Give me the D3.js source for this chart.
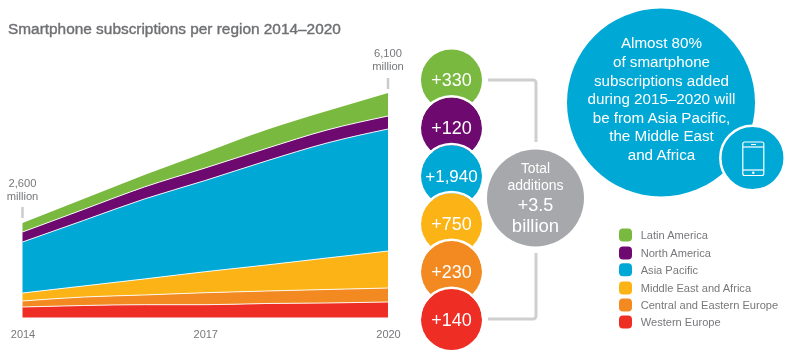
<!DOCTYPE html>
<html><head><meta charset="utf-8">
<script src="https://cdn.jsdelivr.net/npm/d3@7"></script>
<style>html,body{margin:0;background:#fff}svg{display:block;filter:blur(0.35px)}text{font-family:"Liberation Sans",Arial,sans-serif}</style>
</head><body><svg id="c" width="800" height="359"></svg>
<script>
const years=[2014,2015,2016,2017,2018,2019,2020];
const tickYears=[2014,2017,2020];
const westernEurope=[285,326,348,348,380,394,421];
const centralEasternEurope=[163,231,264,326,340,367,380];
const middleEastAfrica=[217,299,435,571,706,856,1005];
const asiaPacific=[1386,1780,2173,2478,2826,3125,3315];
const northAmerica=[272,299,326,340,340,353,353];
const latinAmerica=[245,285,326,421,503,516,625];
const regions=["Latin America","North America","Asia Pacific","Middle East and Africa","Central and Eastern Europe","Western Europe"];
const colors=["#7ab93f","#6e0a6f","#00a8d6","#fbb316","#f28a21","#ee2d24"];
const additions=["+330","+120","+1,940","+750","+230","+140"];
const stackSeries=[westernEurope,centralEasternEurope,middleEastAfrica,asiaPacific,northAmerica,latinAmerica];
const blurbLines=["Almost 80%","of smartphone","subscriptions added","during 2015–2020 will","be from Asia Pacific,","the Middle East","and Africa"];
const totalLines=[["Total",13.8],["additions",14],["+3.5",18],["billion",18.5]];

const svg=d3.select("#c");
const x=d3.scaleLinear().domain([2014,2020]).range([22.5,388]);
const y=d3.scaleLinear().domain([0,6100]).range([317.5,93]);
const txt="#77787b";
svg.append("text").attr("x",8).attr("y",33.5).attr("font-size",15.4).attr("fill","#6f7073").attr("stroke","#6f7073").attr("stroke-width",0.4).text("Smartphone subscriptions per region 2014–2020");

const rows=years.map((yr,i)=>{const r={year:yr};stackSeries.forEach((s,j)=>r[j]=s[i]);return r;});
const stack=d3.stack().keys(stackSeries.map((_,j)=>j))(rows);
const area=d3.area().x(d=>x(d.data.year)).y0(d=>y(d[0])).y1(d=>y(d[1])).curve(d3.curveMonotoneX);
const line=d3.line().x(d=>x(d.data.year)).y(d=>y(d[1])).curve(d3.curveMonotoneX);
stack.forEach((s,j)=>{svg.append("path").attr("d",area(s)).attr("fill",colors[5-j]);});
stack.slice(0,5).forEach(s=>{svg.append("path").attr("d",line(s)).attr("fill","none").attr("stroke","#fff").attr("stroke-opacity",.9).attr("stroke-width",1);});

const axis=d3.axisBottom(x).tickValues(tickYears).tickFormat(d3.format("d")).tickSize(0);
const ax=svg.append("g").attr("transform","translate(0,322)").call(axis);
ax.select(".domain").remove();
ax.selectAll("text").attr("font-size",11).attr("fill",txt).attr("font-family",'"Liberation Sans"').attr("dy","0.71em").attr("y",8.5);

[[2014,"2,600",186.5,199.5,207,218],[2020,"6,100",57,70,78,89]].forEach(([yr,v,a,b,t0,t1])=>{
  svg.append("text").attr("x",x(yr)).attr("y",a).attr("text-anchor","middle").attr("font-size",11.2).attr("fill",txt).text(v);
  svg.append("text").attr("x",x(yr)).attr("y",b).attr("text-anchor","middle").attr("font-size",11.2).attr("fill",txt).text("million");
  svg.append("line").attr("x1",x(yr)).attr("x2",x(yr)).attr("y1",t0).attr("y2",t1).attr("stroke","#ccc").attr("stroke-width",2.5);
});

const bx=451.5, by=d3.scalePoint().domain(additions).range([80,319.5]);
svg.append("path").attr("d",`M488,80H533a3,3 0 0 1 3,3V142`).attr("fill","none").attr("stroke","#cfcfd0").attr("stroke-width",3);
svg.append("path").attr("d",`M536,253V316a3,3 0 0 1 -3,3H488`).attr("fill","none").attr("stroke","#cfcfd0").attr("stroke-width",3);
additions.forEach((a,i)=>{
  svg.append("circle").attr("cx",bx).attr("cy",by(a)).attr("r",30.5).attr("fill",colors[i]);
  if(i) svg.append("path").attr("d",d3.arc()({innerRadius:30.5,outerRadius:33,startAngle:-Math.PI/2,endAngle:Math.PI/2})).attr("transform",`translate(${bx},${by(a)})`).attr("fill","#fff");
});
additions.forEach(a=>{
  svg.append("text").attr("x",bx).attr("y",by(a)).attr("dy","0.36em").attr("text-anchor","middle").attr("font-size",a.length>4?17:18).attr("fill","#fff").text(a);
});

svg.append("circle").attr("cx",535.5).attr("cy",198).attr("r",48.5).attr("fill","#a7a8ab");
[168.5,184.7,204.5,225].forEach((cy,i)=>{
  svg.append("text").attr("x",535.5).attr("y",cy).attr("dy","0.36em").attr("text-anchor","middle").attr("font-size",totalLines[i][1]).attr("fill","#fff").text(totalLines[i][0]);
});

svg.append("circle").attr("cx",661).attr("cy",102.5).attr("r",94).attr("fill","#00a8d6");
[43,62,80.5,99,117.5,136,155].forEach((cy,i)=>{
  svg.append("text").attr("x",661.5).attr("y",cy).attr("dy","0.36em").attr("text-anchor","middle").attr("font-size",15.2).attr("fill","#fff").text(blurbLines[i]);
});
svg.append("circle").attr("cx",752.5).attr("cy",158).attr("r",32.2).attr("fill","#00a8d6").attr("stroke","#fff").attr("stroke-width",2.5);
const ph=svg.append("g").attr("fill","none").attr("stroke","#fff").attr("stroke-width",1.2);
ph.append("rect").attr("x",742.8).attr("y",142).attr("width",21).attr("height",33.5).attr("rx",2);
ph.append("line").attr("x1",743).attr("x2",764).attr("y1",147).attr("y2",147);
ph.append("line").attr("x1",743).attr("x2",764).attr("y1",170).attr("y2",170);
ph.append("line").attr("x1",751).attr("x2",756).attr("y1",144.5).attr("y2",144.5).attr("stroke-width",1);
svg.append("circle").attr("cx",753.3).attr("cy",172.8).attr("r",1.2).attr("fill","#fff");

[235,253,269.7,288,305,322].forEach((cy,i)=>{
  svg.append("rect").attr("x",619).attr("y",cy-6.5).attr("width",13).attr("height",13).attr("rx",4).attr("fill",colors[i]);
  svg.append("text").attr("x",640.7).attr("y",cy).attr("dy","0.36em").attr("font-size",11.1).attr("fill",txt).text(regions[i]);
});
</script></body></html>
